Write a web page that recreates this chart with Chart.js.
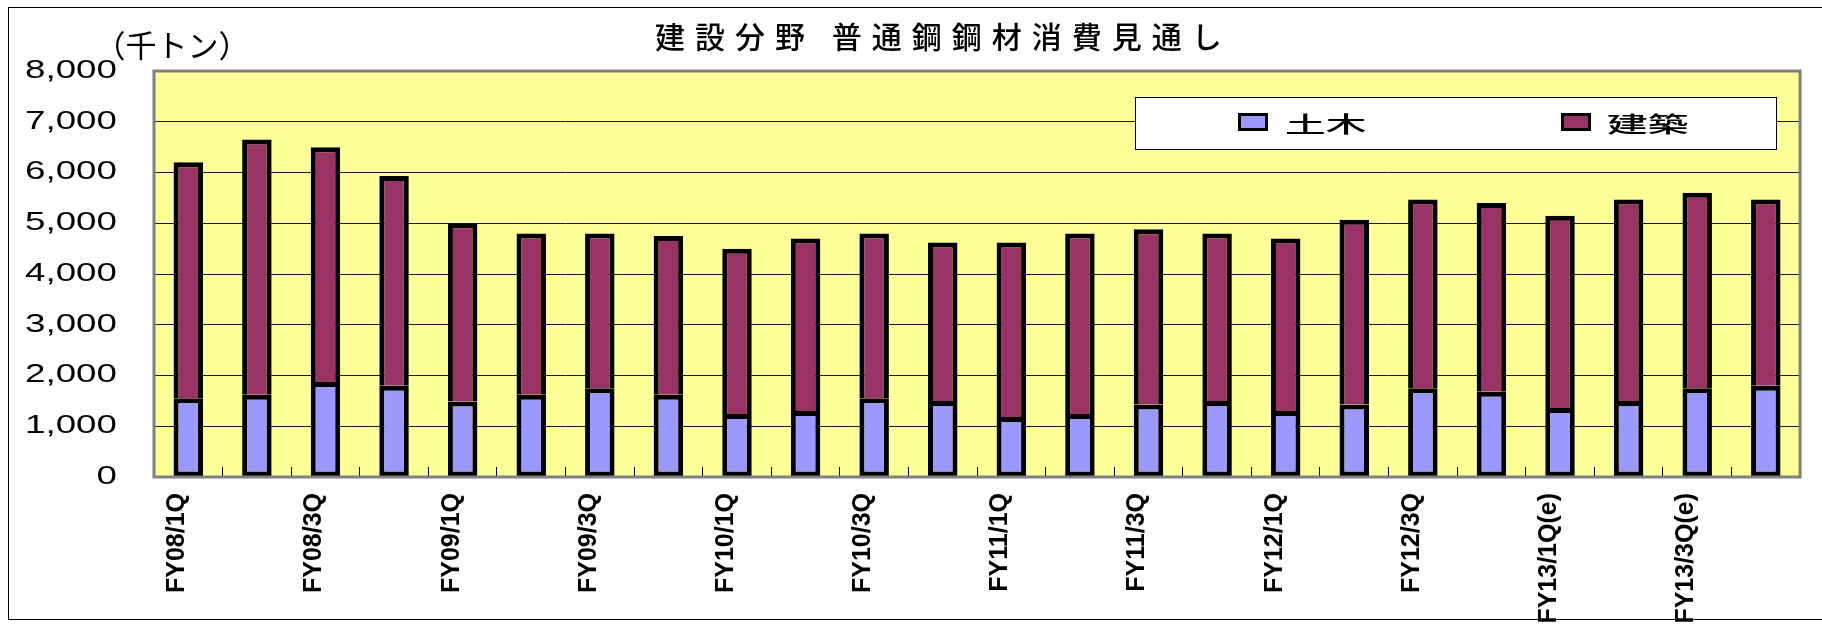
<!DOCTYPE html>
<html>
<head>
<meta charset="utf-8">
<script src="https://cdn.jsdelivr.net/npm/chart.js@4.4.1/dist/chart.umd.min.js"></script>
<style>
  html, body { margin: 0; padding: 0; background: #fff; overflow: hidden; }
  canvas { display: block; }
</style>
</head>
<body>
<canvas id="chart" width="1822" height="625"></canvas>
<script>
// 建設分野 普通鋼鋼材消費見通し (千トン)
const quarters = [
    'FY08/1Q', 'FY08/2Q', 'FY08/3Q', 'FY08/4Q',
    'FY09/1Q', 'FY09/2Q', 'FY09/3Q', 'FY09/4Q',
    'FY10/1Q', 'FY10/2Q', 'FY10/3Q', 'FY10/4Q',
    'FY11/1Q', 'FY11/2Q', 'FY11/3Q', 'FY11/4Q',
    'FY12/1Q', 'FY12/2Q', 'FY12/3Q', 'FY12/4Q',
    'FY13/1Q(e)', 'FY13/2Q(e)', 'FY13/3Q(e)', 'FY13/4Q(e)'
];
const doboku = [1550, 1620, 1870, 1800, 1490, 1620, 1750, 1620, 1240, 1300, 1550, 1500,
                1180, 1240, 1430, 1500, 1300, 1430, 1750, 1680, 1360, 1500, 1750, 1800];
const kenchiku = [4650, 5030, 4630, 4130, 3510, 3180, 3050, 3130, 3260, 3400, 3250, 3120,
                  3440, 3560, 3450, 3300, 3400, 3640, 3720, 3720, 3790, 3970, 3850, 3670];
const seriesNames = ['土木', '建築'];
const seriesColors = ['#9999FF', '#993366'];
const yTicks = [0, 1000, 2000, 3000, 4000, 5000, 6000, 7000, 8000];
const chartTitle = '建設分野 普通鋼鋼材消費見通し';
const unitLabel = '（千トン）';

const latin = '"Liberation Sans", Arial, sans-serif';
const cjk = '"Noto Sans CJK JP", sans-serif';

// background, frame, title, legend box and the wide y labels
const decor = {
    id: 'decor',
    beforeDraw(chart) {
        const { ctx, chartArea: a } = chart;
        ctx.save();
        ctx.fillStyle = '#fff';
        ctx.fillRect(0, 0, chart.width, chart.height);
        ctx.strokeStyle = '#000';
        ctx.lineWidth = 1;
        ctx.strokeRect(8.5, 7.5, chart.width + 20, 612);
        ctx.fillStyle = '#FFFF99';
        ctx.fillRect(a.left, a.top, a.width, a.height);

        ctx.fillStyle = '#000';
        ctx.textBaseline = 'middle';
        ctx.textAlign = 'left';
        ctx.font = '500 30px ' + cjk;
        ctx.letterSpacing = '10px';
        ctx.fillText(chartTitle, 655, 37);
        ctx.letterSpacing = '0px';
        ctx.textAlign = 'center';
        ctx.font = '31px ' + cjk;
        ctx.fillText(unitLabel, 172, 45);
        ctx.restore();
    },
    afterDatasetsDraw(chart) {
        const { ctx, chartArea: a } = chart;
        ctx.save();
        ctx.strokeStyle = '#808080';
        ctx.lineWidth = 3;
        ctx.strokeRect(a.left, a.top, a.width, a.height);

        // legend
        ctx.fillStyle = '#fff';
        ctx.fillRect(1135, 97, 641, 52);
        ctx.strokeStyle = '#000';
        ctx.lineWidth = 1;
        ctx.strokeRect(1135.5, 97.5, 641, 52);
        const boxX = [1238, 1561];
        const textX = [1285, 1607];
        chart.data.datasets.forEach((ds, i) => {
            ctx.fillStyle = ds.backgroundColor;
            ctx.fillRect(boxX[i], 113, 30, 18);
            ctx.strokeStyle = '#000';
            ctx.lineWidth = 3;
            ctx.strokeRect(boxX[i] + 1.5, 114.5, 27, 15);
            ctx.save();
            ctx.translate(textX[i], 124);
            ctx.scale(1.85, 1);
            ctx.fillStyle = '#000';
            ctx.font = '500 22px ' + cjk;
            ctx.textAlign = 'left';
            ctx.textBaseline = 'middle';
            ctx.fillText(ds.label, 0, 0);
            ctx.restore();
        });
        ctx.restore();

        // y tick labels (z: 1) are drawn next, stretched like the original
        const y = chart.scales.y;
        const x0 = y.right - y.options.ticks.padding;
        ctx.save();
        ctx.translate(x0, 0);
        ctx.scale(1.47, 1);
        ctx.translate(-x0, 0);
    },
    afterDraw(chart) {
        chart.ctx.restore();
    }
};

new Chart(document.getElementById('chart'), {
    type: 'bar',
    data: {
        labels: quarters,
        datasets: [
            { label: seriesNames[0], data: doboku, backgroundColor: seriesColors[0],
              borderColor: '#000', borderWidth: 5, borderSkipped: false },
            { label: seriesNames[1], data: kenchiku, backgroundColor: seriesColors[1],
              borderColor: '#000', borderWidth: 5, borderSkipped: 'bottom' }
        ]
    },
    options: {
        responsive: false,
        animation: false,
        devicePixelRatio: 1,
        layout: { padding: { left: 0, right: 10, top: 71, bottom: 0 } },
        datasets: { bar: { categoryPercentage: 1, barPercentage: 0.43 } },
        plugins: {
            legend: { display: false },
            title: { display: false },
            tooltip: { enabled: false }
        },
        scales: {
            x: {
                stacked: true,
                offset: true,
                border: { display: false },
                grid: { offset: true, drawOnChartArea: false, drawTicks: true, tickLength: -10, color: '#000', lineWidth: 1 },
                ticks: {
                    autoSkip: false, minRotation: 90, maxRotation: 90,
                    padding: 26, labelOffset: -11, color: '#000',
                    font: { family: latin, size: 25, weight: 'bold' },
                    callback: (v, i) => (i % 2 === 0 ? quarters[i] : '')
                },
                afterFit: s => { s.height = 148; }
            },
            y: {
                stacked: true,
                min: 0,
                max: 8000,
                border: { display: false },
                grid: { color: '#1a1a1a', lineWidth: 1, drawTicks: false },
                afterBuildTicks: s => { s.ticks = yTicks.map(v => ({ value: v })); },
                ticks: {
                    z: 1, padding: 37, color: '#000',
                    font: { family: latin, size: 25 },
                    callback: v => v.toLocaleString('en-US')
                },
                afterFit: s => { s.width = 154; }
            }
        }
    },
    plugins: [decor]
});
</script>
</body>
</html>
